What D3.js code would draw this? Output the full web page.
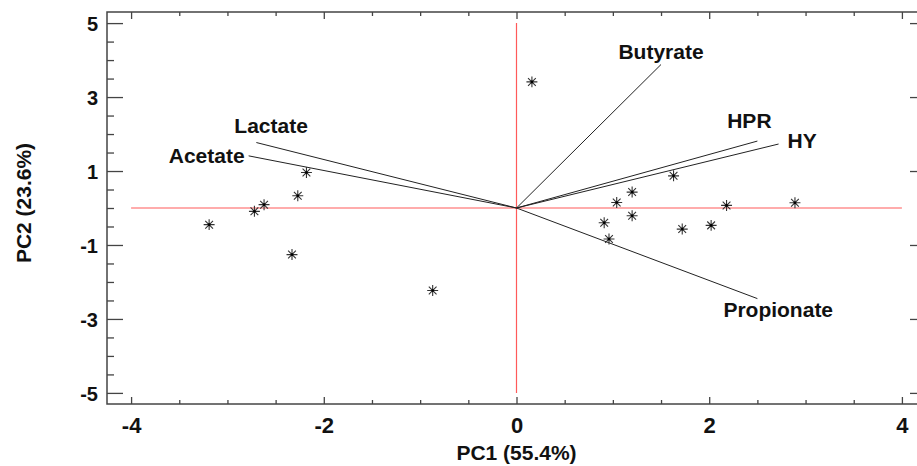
<!DOCTYPE html>
<html>
<head>
<meta charset="utf-8">
<script src="https://cdn.jsdelivr.net/npm/d3@7/dist/d3.min.js"></script>
<style>
  body { margin: 0; background: #fff; }
  text { font-family: "Liberation Sans", Arial, sans-serif; font-weight: bold; fill: #111; }
</style>
</head>
<body>
<svg id="chart" width="917" height="466"></svg>
<script>
  'use strict';

  // PCA scores (PC1, PC2)
  var scoreX = [-2.18, -2.27, -2.62, -2.72, -3.19, -2.33, -0.87, 0.16, 1.63, 1.20, 1.04, 1.20, 0.91, 0.96, 1.72, 2.02, 2.18, 2.89];
  var scoreY = [0.96, 0.33, 0.09, -0.09, -0.45, -1.26, -2.23, 3.41, 0.87, 0.43, 0.15, -0.21, -0.40, -0.84, -0.57, -0.47, 0.07, 0.14];

  // loading vectors
  var variables = ['Butyrate', 'HPR', 'HY', 'Propionate', 'Lactate', 'Acetate'];
  var loadX = [1.50, 2.50, 2.72, 2.50, -2.70, -2.78];
  var loadY = [3.88, 1.81, 1.73, -2.45, 1.77, 1.41];

  var xTicks = [-4, -2, 0, 2, 4];
  var yTicks = [-5, -3, -1, 1, 3, 5];
  var xTitle = 'PC1 (55.4%)';
  var yTitle = 'PC2 (23.6%)';

  (function() {
    var svg = d3.select('#chart');
    var plotLeft = 107, plotTop = 12, plotRight = 926, plotBottom = 404;

    var x = d3.scaleLinear().domain([-4.25, 4.25]).range([plotLeft, plotRight]);
    var y = d3.scaleLinear().domain([-5.3, 5.3]).range([plotBottom, plotTop]);

    var frameColor = '#444';
    var minorX = d3.range(-4, 4.01, 0.5).filter(function(v) { return v % 2 !== 0; });
    var minorY = d3.range(-5, 5.01, 0.5).filter(function(v) { return Math.abs(v % 2) !== 1; });
    var plain = function(d) { return String(d); }; // hyphen minus, like the original

    var styleAxis = function(g) {
      g.select('.domain').remove();
      g.selectAll('line').attr('stroke', frameColor).attr('stroke-width', 1.3);
    };

    // bottom / top axes
    svg.append('g').attr('transform', 'translate(0,' + plotBottom + ')')
      .call(d3.axisBottom(x).tickValues(minorX).tickSize(-4).tickFormat(''))
      .call(styleAxis);
    var xAxis = svg.append('g').attr('transform', 'translate(0,' + plotBottom + ')')
      .call(d3.axisBottom(x).tickValues(xTicks).tickSizeInner(-7).tickSizeOuter(0).tickPadding(0).tickFormat(plain))
      .call(styleAxis);
    xAxis.selectAll('text').attr('font-size', 22).attr('dy', null).attr('y', 29);

    svg.append('g').attr('transform', 'translate(0,' + plotTop + ')')
      .call(d3.axisTop(x).tickValues(minorX).tickSize(-4).tickFormat(''))
      .call(styleAxis);
    svg.append('g').attr('transform', 'translate(0,' + plotTop + ')')
      .call(d3.axisTop(x).tickValues(xTicks).tickSize(-7).tickFormat(''))
      .call(styleAxis);

    // left / right axes
    svg.append('g').attr('transform', 'translate(' + plotLeft + ',0)')
      .call(d3.axisLeft(y).tickValues(minorY).tickSize(-7).tickFormat(''))
      .call(styleAxis);
    var yAxis = svg.append('g').attr('transform', 'translate(' + plotLeft + ',0)')
      .call(d3.axisLeft(y).tickValues(yTicks).tickSizeInner(-16).tickSizeOuter(0).tickPadding(0).tickFormat(plain))
      .call(styleAxis);
    yAxis.selectAll('text').attr('font-size', 20).attr('x', -9).attr('dy', '0.36em');

    svg.append('g').attr('transform', 'translate(' + plotRight + ',0)')
      .call(d3.axisRight(y).tickValues(minorY).tickSize(-7).tickFormat(''))
      .call(styleAxis);
    svg.append('g').attr('transform', 'translate(' + plotRight + ',0)')
      .call(d3.axisRight(y).tickValues(yTicks).tickSize(-16).tickFormat(''))
      .call(styleAxis);

    svg.selectAll('.tick text').attr('fill', '#111')
      .style('font-family', '"Liberation Sans", Arial, sans-serif')
      .style('font-weight', 'bold');

    // frame
    svg.append('rect')
      .attr('x', plotLeft).attr('y', plotTop)
      .attr('width', plotRight - plotLeft).attr('height', plotBottom - plotTop)
      .attr('fill', 'none').attr('stroke', frameColor).attr('stroke-width', 1.5);

    // red reference lines at zero
    var ref = svg.append('g').attr('stroke', '#ff5a5a').attr('stroke-width', 1.2);
    ref.append('line')
      .attr('x1', x(-4)).attr('x2', x(4))
      .attr('y1', y(0)).attr('y2', y(0));
    ref.append('line')
      .attr('x1', x(0)).attr('x2', x(0))
      .attr('y1', y(5)).attr('y2', y(-5));

    // loading vectors
    var vectors = variables.map(function(name, i) {
      return { name: name, x: loadX[i], y: loadY[i] };
    });

    svg.append('g').selectAll('line')
      .data(vectors)
      .enter().append('line')
      .attr('x1', x(0)).attr('y1', y(0))
      .attr('x2', function(d) { return x(d.x); })
      .attr('y2', function(d) { return y(d.y); })
      .attr('stroke', '#222').attr('stroke-width', 1);

    // label placement relative to the vector tip
    var labelOffsets = {
      Butyrate: { dx: 0, dy: -6, anchor: 'middle' },
      HPR: { dx: -8, dy: -13, anchor: 'middle' },
      HY: { dx: 9, dy: 4, anchor: 'start' },
      Propionate: { dx: -34, dy: 18, anchor: 'start' },
      Lactate: { dx: -22, dy: -10, anchor: 'start' },
      Acetate: { dx: -4, dy: 7, anchor: 'end' }
    };

    svg.append('g').selectAll('text')
      .data(vectors)
      .enter().append('text')
      .attr('x', function(d) { return x(d.x) + labelOffsets[d.name].dx; })
      .attr('y', function(d) { return y(d.y) + labelOffsets[d.name].dy; })
      .attr('text-anchor', function(d) { return labelOffsets[d.name].anchor; })
      .attr('font-size', 21)
      .text(function(d) { return d.name; });

    // asterisk markers
    var asterisk = {
      draw: function(context, size) {
        var r = Math.sqrt(size) / 2;
        var q = r * Math.SQRT1_2;
        context.moveTo(-r, 0); context.lineTo(r, 0);
        context.moveTo(0, -r); context.lineTo(0, r);
        context.moveTo(-q, -q); context.lineTo(q, q);
        context.moveTo(-q, q); context.lineTo(q, -q);
      }
    };

    var scores = scoreX.map(function(v, i) { return { x: v, y: scoreY[i] }; });

    var points = svg.append('g').selectAll('g')
      .data(scores)
      .enter().append('g')
      .attr('transform', function(d) { return 'translate(' + x(d.x) + ',' + y(d.y) + ')'; });

    points.append('path')
      .attr('d', d3.symbol().type(asterisk).size(120))
      .attr('fill', 'none').attr('stroke', '#333').attr('stroke-width', 1.1);
    points.append('circle')
      .attr('r', 1.3).attr('fill', '#000');

    // axis titles
    svg.append('text')
      .attr('x', x(0)).attr('y', 460)
      .attr('text-anchor', 'middle')
      .attr('font-size', 21)
      .text(xTitle);

    svg.append('text')
      .attr('transform', 'translate(31,203) rotate(-90)')
      .attr('text-anchor', 'middle')
      .attr('font-size', 21)
      .text(yTitle);
  })();
</script>
</body>
</html>
